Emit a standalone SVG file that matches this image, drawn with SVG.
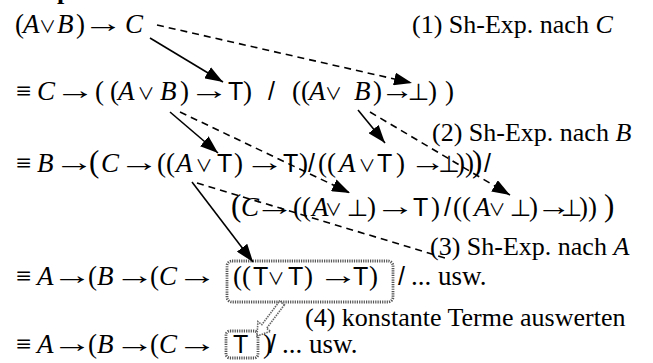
<svg xmlns="http://www.w3.org/2000/svg" width="653" height="363" viewBox="0 0 653 363">
<style>
.s{font-family:"Liberation Serif","DejaVu Serif",serif;font-size:26px;fill:#000}
.e{font-family:"Liberation Serif","DejaVu Serif",serif;font-size:27px;fill:#000}
.i{font-style:italic}
.f{font-family:"Liberation Sans","DejaVu Sans",sans-serif;font-style:normal;font-size:25px}
.big{font-size:31px}
.or{font-family:"Noto Sans CJK JP","DejaVu Sans",sans-serif;font-size:17px;text-anchor:middle}
.bot{font-family:"Noto Sans CJK JP","DejaVu Sans",sans-serif;font-size:22px;text-anchor:middle}
.ar{font-family:"Liberation Serif","DejaVu Serif",serif;font-size:26px;text-anchor:middle}
.sol{stroke:#000;stroke-width:1.6;fill:none}
.dash{stroke:#000;stroke-width:1.6;fill:none;stroke-dasharray:7 5}
.box{fill:none;stroke:#555;stroke-width:2.8;stroke-dasharray:1.2 1.1}
</style>
<defs>
<marker id="ah" markerUnits="userSpaceOnUse" markerWidth="18" markerHeight="13" refX="18" refY="6.5" orient="auto">
<path d="M0,0 L18,6.5 L0,13 z" fill="#000"/>
</marker>
</defs>
<rect width="653" height="363" fill="#fff"/>

<g id="title"><text class="s" x="57" y="-1" font-weight="bold">p</text></g>

<g id="line1"><text class="e" y="33"><tspan x="15">(</tspan><tspan x="23" class="i">A</tspan><tspan x="47.5" class="or">∨</tspan><tspan x="57" class="i">B</tspan><tspan x="76">)</tspan><tspan x="125" class="i">C</tspan></text>
<text class="ar" transform="translate(103.5,32) scale(1.55,1)">→</text></g>
<g id="label1"><text class="s" x="412" y="33">(1) Sh-Exp. nach <tspan class="i">C</tspan></text></g>

<g id="line2"><text class="e" y="100"><tspan x="16">≡</tspan><tspan x="37" class="i">C</tspan><tspan x="95">(</tspan><tspan x="110">(</tspan><tspan x="118" class="i">A</tspan><tspan x="146" class="or">∨</tspan><tspan x="160" class="i">B</tspan><tspan x="180">)</tspan><tspan x="228" class="f">T</tspan><tspan x="243">)</tspan><tspan x="268" class="f">/</tspan><tspan x="292">((</tspan><tspan x="309" class="i">A</tspan><tspan x="333.5" class="or">∨</tspan><tspan x="354" class="i">B</tspan><tspan x="373">)</tspan><tspan x="418.5" class="bot">⊥</tspan><tspan x="428">)</tspan><tspan x="445">)</tspan></text>
<text class="ar" transform="translate(75.5,99) scale(1.55,1)">→</text>
<text class="ar" transform="translate(209.5,99) scale(1.55,1)">→</text>
<text class="ar" transform="translate(397.5,99) scale(1.3,1)">→</text></g>

<g id="label2"><text class="s" x="432" y="141">(2) Sh-Exp. nach <tspan class="i">B</tspan></text></g>

<g id="line3"><text class="e" y="172"><tspan x="16">≡</tspan><tspan x="37" class="i">B</tspan><tspan x="89" class="big">(</tspan><tspan x="101" class="i">C</tspan><tspan x="157">((</tspan><tspan x="176" class="i">A</tspan><tspan x="204" class="or">∨</tspan><tspan x="217" class="f">T</tspan><tspan x="234">)</tspan><tspan x="283" class="f">T</tspan><tspan x="299">)</tspan><tspan x="308" class="f">/</tspan><tspan x="318">((</tspan><tspan x="339" class="i">A</tspan><tspan x="367" class="or">∨</tspan><tspan x="377" class="f">T</tspan><tspan x="396">)</tspan><tspan x="449" class="bot">⊥</tspan><tspan x="456">))</tspan><tspan x="472" class="big">)</tspan><tspan x="484" class="f">/</tspan></text>
<text class="ar" transform="translate(74.5,171) scale(1.55,1)">→</text>
<text class="ar" transform="translate(139.5,171) scale(1.55,1)">→</text>
<text class="ar" transform="translate(265,171) scale(1.55,1)">→</text>
<text class="ar" transform="translate(428,171) scale(1.4,1)">→</text></g>

<g id="line4"><text class="e" y="216"><tspan x="231" class="big">(</tspan><tspan x="241" class="i">C</tspan><tspan x="293">((</tspan><tspan x="312" class="i">A</tspan><tspan x="333.5" class="or">∨</tspan><tspan x="357.5" class="bot">⊥</tspan><tspan x="367">)</tspan><tspan x="413" class="f">T</tspan><tspan x="431">)</tspan><tspan x="444" class="f">/</tspan><tspan x="453">((</tspan><tspan x="474" class="i">A</tspan><tspan x="497" class="or">∨</tspan><tspan x="520.5" class="bot">⊥</tspan><tspan x="529">)</tspan><tspan x="571.5" class="bot">⊥</tspan><tspan x="579">))</tspan><tspan x="604" class="big">)</tspan></text>
<text class="ar" transform="translate(275,215) scale(1.55,1)">→</text>
<text class="ar" transform="translate(395.5,215) scale(1.55,1)">→</text>
<text class="ar" transform="translate(554,215) scale(1.35,1)">→</text></g>

<g id="label3"><text class="s" x="430" y="255">(3) Sh-Exp. nach <tspan class="i">A</tspan></text></g>

<g id="line6"><rect class="box" x="227" y="261" width="166" height="41" rx="5"/><text class="e" y="285"><tspan x="16">≡</tspan><tspan x="37" class="i">A</tspan><tspan x="88">(</tspan><tspan x="97" class="i">B</tspan><tspan x="150">(</tspan><tspan x="159" class="i">C</tspan><tspan x="233">((</tspan><tspan x="253" class="f">T</tspan><tspan x="276" class="or">∨</tspan><tspan x="288" class="f">T</tspan><tspan x="304">)</tspan><tspan x="353" class="f">T</tspan><tspan x="369">)</tspan><tspan x="398" class="f">/</tspan><tspan x="411">... usw.</tspan></text>
<text class="ar" transform="translate(72.5,284) scale(1.55,1)">→</text>
<text class="ar" transform="translate(135,284) scale(1.55,1)">→</text>
<text class="ar" transform="translate(197.5,284) scale(1.55,1)">→</text>
<text class="ar" transform="translate(338.5,284) scale(1.55,1)">→</text></g>

<g id="label4"><text class="s" x="305" y="326">(4) konstante Terme auswerten</text></g>

<g id="line7"><rect class="box" x="226" y="331" width="32" height="27" rx="4"/><text class="e" y="353"><tspan x="16">≡</tspan><tspan x="37" class="i">A</tspan><tspan x="88">(</tspan><tspan x="97" class="i">B</tspan><tspan x="150">(</tspan><tspan x="159" class="i">C</tspan><tspan x="233" class="f">T</tspan><tspan x="263">)</tspan><tspan x="269" class="f">/</tspan><tspan x="282">... usw.</tspan></text>
<text class="ar" transform="translate(72.5,352) scale(1.55,1)">→</text>
<text class="ar" transform="translate(135,352) scale(1.55,1)">→</text>
<text class="ar" transform="translate(197.5,352) scale(1.55,1)">→</text></g>

<g id="connectors">
<line class="sol" x1="150" y1="38" x2="223" y2="82" marker-end="url(#ah)"/>
<line class="dash" x1="157" y1="25" x2="412" y2="83" marker-end="url(#ah)"/>
<line class="sol" x1="170" y1="112" x2="218" y2="153" marker-end="url(#ah)"/>
<line class="dash" x1="180" y1="112" x2="350" y2="193" marker-end="url(#ah)"/>
<line class="sol" x1="358" y1="110" x2="385" y2="143" marker-end="url(#ah)"/>
<line class="dash" x1="370" y1="112" x2="510" y2="195" marker-end="url(#ah)"/>
<line class="sol" x1="192" y1="182" x2="253" y2="262" marker-end="url(#ah)"/>
<line class="dash" x1="197" y1="183" x2="445" y2="258"/>
<polygon points="284.4,304.8 266.6,328.3 270.6,331.3 257,336 257.9,321.6 261.9,324.6 279.6,301.2" fill="#fff" stroke="#666" stroke-width="1.6" stroke-dasharray="1.5 1"/>
</g>
</svg>
